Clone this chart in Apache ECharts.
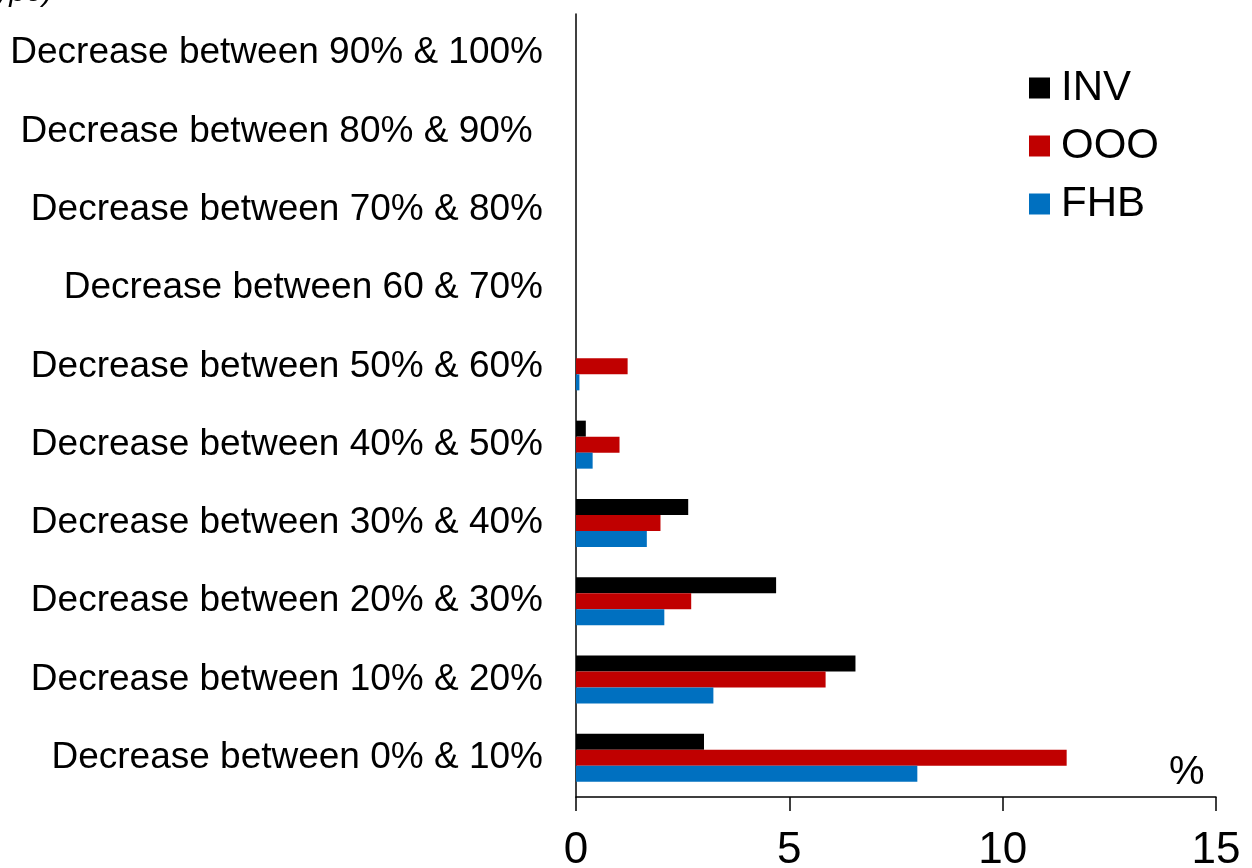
<!DOCTYPE html>
<html>
<head>
<meta charset="utf-8">
<script src="https://cdn.jsdelivr.net/npm/echarts@6/dist/echarts.min.js"></script>
<style>
  html, body { margin: 0; padding: 0; background: #fff; }
  #chart { width: 1252px; height: 868px; }
</style>
</head>
<body>
<div id="chart"></div>
<script>
// Share of loans by size of decrease, per borrower type (%)
const categories = [
  'Decrease between 0% & 10%',
  'Decrease between 10% & 20%',
  'Decrease between 20% & 30%',
  'Decrease between 30% & 40%',
  'Decrease between 40% & 50%',
  'Decrease between 50% & 60%',
  'Decrease between 60 & 70%',
  'Decrease between 70% & 80%',
  'Decrease between 80% & 90% ',
  'Decrease between 90% & 100%'
];
const invValues = [3.0, 6.55, 4.69, 2.63, 0.23, 0, 0, 0, 0, 0];
const oooValues = [11.5, 5.85, 2.70, 1.98, 1.02, 1.21, 0, 0, 0, 0];
const fhbValues = [8.0, 3.22, 2.07, 1.66, 0.39, 0.08, 0, 0, 0, 0];
const xTicks = [0, 5, 10, 15];

const FONT = 'Liberation Sans, Arial, sans-serif';
const chart = echarts.init(document.getElementById('chart'));

function barSeries(name, data, color) {
  return {
    name: name,
    type: 'bar',
    data: data,
    barWidth: 16,
    barGap: '0%',
    itemStyle: { color: color },
    silent: true
  };
}

chart.setOption({
  animation: false,
  backgroundColor: '#fff',
  grid: {
    left: 576, right: 36, top: 14, bottom: 71,
    containLabel: false,
    outerBoundsMode: 'none'
  },
  legend: {
    orient: 'vertical',
    left: 1024,
    top: 62,
    itemWidth: 21,
    itemHeight: 21,
    itemGap: 16,
    icon: 'rect',
    textStyle: { fontFamily: FONT, fontSize: 42, color: '#000', padding: [0, 0, 0, 6] },
    data: ['INV', 'OOO', 'FHB']
  },
  xAxis: {
    type: 'value',
    min: xTicks[0],
    max: xTicks[xTicks.length - 1],
    interval: 5,
    splitLine: { show: false },
    axisLine: { show: true, lineStyle: { color: '#000', width: 1.5 } },
    axisTick: { show: true, length: 14, lineStyle: { color: '#000', width: 1.5 } },
    axisLabel: { fontFamily: FONT, fontSize: 44, color: '#000', margin: 32 }
  },
  yAxis: {
    type: 'category',
    data: categories,
    axisLine: { show: true, lineStyle: { color: '#000', width: 1.5 } },
    axisTick: { show: false },
    axisLabel: { fontFamily: FONT, fontSize: 37, color: '#000', margin: 33 }
  },
  graphic: [
    {
      type: 'text',
      left: 1169,
      top: 753,
      style: { text: '%', fontFamily: FONT, fontSize: 40, fill: '#000' }
    },
    {
      type: 'text',
      left: -14,
      top: -22,
      style: { text: 'type)', fontFamily: FONT, fontSize: 30, fontStyle: 'italic', fill: '#000' }
    }
  ],
  series: [
    barSeries('INV', invValues, '#000000'),
    barSeries('OOO', oooValues, '#C00000'),
    barSeries('FHB', fhbValues, '#0070C0')
  ]
});
</script>
</body>
</html>
